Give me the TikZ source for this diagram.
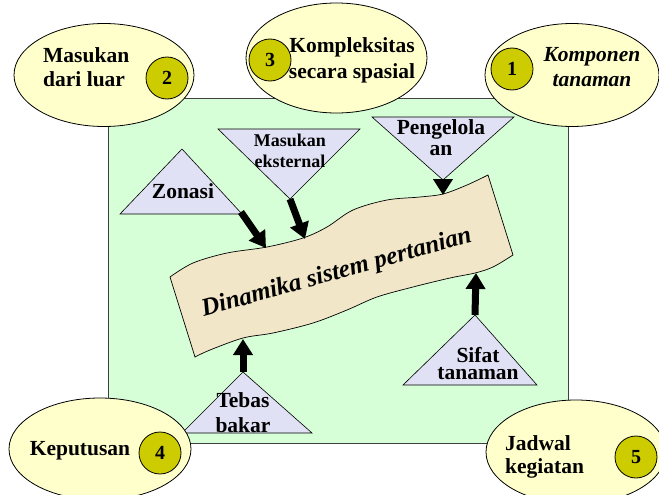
\documentclass[tikz,border=0pt]{standalone}
\usepackage{fontspec}
\setmainfont{Liberation Serif}
\usetikzlibrary{arrows.meta,shapes.geometric}

\definecolor{panelgreen}{HTML}{D7FFD7}
\definecolor{lavender}{HTML}{E1E1F5}
\definecolor{creamyellow}{HTML}{FFFFCC}
\definecolor{badgeolive}{HTML}{CCCC00}
\definecolor{parchment}{HTML}{F2E6C8}

\begin{document}
\begin{tikzpicture}[x=1pt,y=-1pt,
  panel/.style={draw=black!75, line width=1pt, fill=panelgreen},
  tri/.style={draw=black, line width=0.6pt, fill=lavender},
  bubble/.style={draw=black, line width=0.8pt, fill=creamyellow, ellipse, inner sep=0pt},
  badge/.style={draw=black, line width=0.8pt, fill=badgeolive, circle,
    minimum size=42pt, inner sep=0pt, font=\bfseries\fontsize{20}{24}\selectfont},
  biglabel/.style={font=\bfseries\fontsize{21.5}{24}\selectfont, inner sep=0pt, anchor=base},
  smalllabel/.style={font=\bfseries\fontsize{18}{21}\selectfont, inner sep=0pt, anchor=base},
  fat/.style={line width=7pt, -{Triangle[length=16pt,width=19pt]}},
  scroll/.style={draw=black, line width=0.7pt, fill=parchment},
]
\useasboundingbox (0,0) rectangle (659,495);

% central panel
\draw[panel] (108,99) rectangle (568,443);

% wavy banner
\draw[scroll] plot[smooth, tension=0.55] coordinates {(170,277) (193,263) (227,253) (267,247) (303,238)
    (327,227) (353,210) (387,200) (420,197) (443,194) (467,185) (488,175)}
  -- plot[smooth, tension=0.55] coordinates {(513,255) (493,267) (475,273) (450,278) (413,287)
    (377,297) (347,310) (313,323) (273,333) (243,338) (210,350) (195,357)}
  -- cycle;
\node[font=\bfseries\itshape\fontsize{25}{28}\selectfont, inner sep=0pt, anchor=base, rotate=15.5]
  (dinamika) at (338.3,279.2) {Dinamika sistem pertanian};

% contact points on the banner
\coordinate (bZon) at (266,248);
\coordinate (bEks) at (305,239);
\coordinate (bPen) at (443,195);
\coordinate (bTeb) at (243,339);
\coordinate (bSif) at (476,273);

% triangles
\coordinate (zonTip) at (241,212);
\draw[tri] (182,149) -- (120,214) -- (242,214) -- cycle;
\node[biglabel] (zonasi) at (183,198) {Zonasi};

\coordinate (eksTip) at (290,199);
\draw[tri] (218,129) -- (360,129) -- (eksTip) -- cycle;
\node[smalllabel] (eks1) at (290,146) {Masukan};
\node[smalllabel] (eks2) at (290,167) {eksternal};

\coordinate (penTip) at (443,180);
\draw[tri] (372,117) -- (514,117) -- (penTip) -- cycle;
\node[biglabel] (pen1) at (441,135) {Pengelola};
\node[biglabel] (pen2) at (441,155) {an};

\coordinate (sifTip) at (475,315);
\draw[tri] (sifTip) -- (403,385) -- (537,385) -- cycle;
\node[biglabel] (sif1) at (478,362) {Sifat};
\node[biglabel] (sif2) at (478,379.5) {tanaman};

\coordinate (tebTip) at (243,372);
\draw[tri] (tebTip) -- (182,433) -- (312,433) -- cycle;
\node[biglabel] (teb1) at (243,407) {Tebas};
\node[biglabel] (teb2) at (243,432) {bakar};

% arrows into the banner
\draw[fat] (zonTip) -- (bZon);
\draw[fat] (eksTip) -- (bEks);
\draw[fat] (penTip) -- (bPen);
\draw[fat] (tebTip) -- (bTeb);
\draw[fat] (sifTip) -- (bSif);

% numbered bubbles
\node[bubble, minimum width=180pt, minimum height=103pt] (e2) at (104,75) {};
\node[biglabel, anchor=base west] (e2a) at (43,63) {Masukan};
\node[biglabel, anchor=base west] (e2b) at (43,87) {dari luar};
\node[badge] (n2) at (167,78) {2};

\node[bubble, minimum width=181pt, minimum height=110pt] (e3) at (336.5,58) {};
\node[biglabel] (e3a) at (352,53) {Kompleksitas};
\node[biglabel] (e3b) at (352,78) {secara spasial};
\node[badge] (n3) at (270,60) {3};

\node[bubble, minimum width=174pt, minimum height=103pt] (e1) at (572,75) {};
\node[biglabel, font=\bfseries\itshape\fontsize{21.5}{24}\selectfont] (e1a) at (592,62) {Komponen};
\node[biglabel, font=\bfseries\itshape\fontsize{21.5}{24}\selectfont] (e1b) at (592,86) {tanaman};
\node[badge] (n1) at (512,69) {1};

\node[bubble, minimum width=182pt, minimum height=102pt] (e4) at (100,449) {};
\node[biglabel] (e4a) at (80,455) {Keputusan};
\node[badge] (n4) at (160,453) {4};

\node[bubble, minimum width=180pt, minimum height=104pt] (e5) at (576,452) {};
\node[biglabel, anchor=base west] (e5a) at (505,450) {Jadwal};
\node[biglabel, anchor=base west] (e5b) at (505,473) {kegiatan};
\node[badge] (n5) at (636,457) {5};
\end{tikzpicture}
\end{document}
